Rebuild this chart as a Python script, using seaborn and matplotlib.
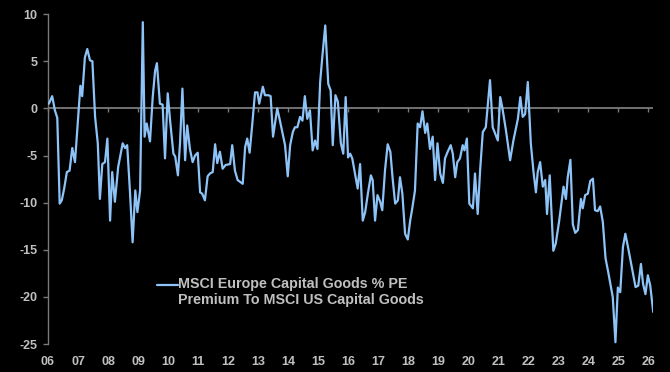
import matplotlib
matplotlib.use("Agg")
import matplotlib.pyplot as plt
from matplotlib.legend_handler import HandlerLine2D
import seaborn as sns
import pandas as pd

# dates as decimal years
dates = [
    2006.03, 2006.14, 2006.23, 2006.31, 2006.39, 2006.46, 2006.54, 2006.63, 2006.72, 2006.81,
    2006.90, 2006.99, 2007.08, 2007.14, 2007.23, 2007.31, 2007.40, 2007.48, 2007.57, 2007.66,
    2007.73, 2007.81, 2007.90, 2007.98, 2008.07, 2008.14, 2008.23, 2008.34, 2008.49, 2008.57,
    2008.64, 2008.73, 2008.82, 2008.91, 2008.98, 2009.07, 2009.16, 2009.22, 2009.29, 2009.40,
    2009.49, 2009.57, 2009.63, 2009.73, 2009.82, 2009.90, 2009.99, 2010.07, 2010.18, 2010.24,
    2010.33, 2010.40, 2010.48, 2010.57, 2010.64, 2010.73, 2010.82, 2010.90, 2010.99, 2011.07,
    2011.14, 2011.23, 2011.32, 2011.40, 2011.49, 2011.57, 2011.64, 2011.73, 2011.82, 2011.92,
    2012.07, 2012.14, 2012.23, 2012.32, 2012.49, 2012.57, 2012.64, 2012.72, 2012.81, 2012.90,
    2012.98, 2013.04, 2013.16, 2013.23, 2013.34, 2013.42, 2013.50, 2013.64, 2013.73, 2013.90,
    2013.99, 2014.07, 2014.16, 2014.23, 2014.31, 2014.40, 2014.48, 2014.56, 2014.64, 2014.73,
    2014.82, 2014.90, 2014.98, 2015.07, 2015.14, 2015.24, 2015.34, 2015.42, 2015.49, 2015.58,
    2015.66, 2015.76, 2015.84, 2015.92, 2016.00, 2016.07, 2016.14, 2016.23, 2016.32, 2016.40,
    2016.49, 2016.57, 2016.66, 2016.76, 2016.82, 2016.90, 2016.98, 2017.07, 2017.14, 2017.23,
    2017.32, 2017.41, 2017.49, 2017.57, 2017.66, 2017.73, 2017.81, 2017.90, 2017.99, 2018.07,
    2018.14, 2018.23, 2018.32, 2018.40, 2018.48, 2018.57, 2018.64, 2018.73, 2018.82, 2018.90,
    2018.98, 2019.07, 2019.16, 2019.23, 2019.32, 2019.42, 2019.49, 2019.57, 2019.64, 2019.73,
    2019.82, 2019.88, 2019.96, 2020.04, 2020.16, 2020.23, 2020.32, 2020.40, 2020.49, 2020.59,
    2020.73, 2020.82, 2020.93, 2020.99, 2021.07, 2021.14, 2021.26, 2021.40, 2021.51, 2021.66,
    2021.74, 2021.82, 2021.90, 2021.99, 2022.09, 2022.18, 2022.26, 2022.32, 2022.40, 2022.49,
    2022.57, 2022.63, 2022.72, 2022.84, 2022.92, 2023.03, 2023.18, 2023.26, 2023.32, 2023.41,
    2023.49, 2023.57, 2023.66, 2023.76, 2023.82, 2023.90, 2023.99, 2024.07, 2024.16, 2024.23,
    2024.32, 2024.40, 2024.49, 2024.58, 2024.66, 2024.76, 2024.82, 2024.91, 2024.99, 2025.07,
    2025.16, 2025.24, 2025.34, 2025.49, 2025.58, 2025.67, 2025.76, 2025.83, 2025.91, 2025.99,
    2026.07, 2026.17,
]
premium = [
    0.5, 1.3, -0.2, -1.0, -10.1, -9.75, -8.5, -6.75, -6.6, -4.2,
    -5.7, -1.6, 2.4, 1.3, 5.4, 6.3, 5.1, 5.0, -0.9, -3.7,
    -9.6, -5.9, -5.7, -3.2, -11.9, -6.75, -9.9, -6.2, -3.7, -4.2,
    -3.9, -8.7, -14.2, -8.7, -11.0, -8.7, 9.15, -3.0, -1.6, -3.5,
    1.2, 4.0, 4.8, 0.5, 0.4, -5.3, 1.6, -1.3, -4.8, -5.1,
    -7.1, -3.7, 2.1, -5.5, -1.8, -4.3, -5.7, -5.0, -4.7, -8.9,
    -9.05, -9.75, -7.2, -6.9, -6.75, -3.8, -5.8, -4.6, -6.4, -6.0,
    -5.9, -3.9, -6.6, -7.6, -8.0, -4.1, -3.2, -4.7, -1.6, 1.7,
    1.7, 0.5, 2.3, 1.4, 1.4, 1.3, -3.0, 0.0, -1.3, -3.9,
    -7.2, -3.9, -2.5, -2.0, -2.0, -0.9, -1.3, 1.3, -1.1, -0.2,
    -4.45, -3.4, -4.3, 2.8, 5.4, 8.8, 2.6, 1.9, -3.9, 1.4,
    0.7, -3.7, -4.8, 1.2, -5.2, -4.8, -5.3, -6.9, -8.5, -5.9,
    -11.9, -11.0, -9.05, -7.1, -7.6, -11.9, -9.2, -9.9, -10.8, -6.6,
    -3.8, -4.6, -7.6, -10.1, -9.75, -7.3, -9.05, -13.3, -13.9, -11.9,
    -10.6, -8.7, -1.6, -2.0, -0.3, -2.6, -1.6, -4.3, -3.0, -7.6,
    -3.7, -6.9, -7.9, -5.3, -4.6, -3.9, -4.8, -7.3, -5.7, -5.3,
    -3.9, -4.45, -3.2, -10.1, -10.6, -6.9, -11.2, -6.6, -2.5, -2.0,
    3.0, -2.0, -2.9, -3.4, 1.2, 0.1, -2.3, -5.5, -3.4, -1.1,
    1.2, -0.9, -0.6, 2.8, -3.7, -6.75, -8.9, -6.75, -5.7, -8.3,
    -7.6, -11.2, -7.1, -15.1, -14.35, -12.05, -8.3, -9.6, -7.3, -5.45,
    -12.3, -13.2, -12.9, -9.6, -10.6, -9.2, -9.05, -7.7, -7.45, -10.8,
    -10.9, -10.4, -12.05, -15.9, -17.2, -18.95, -20.0, -24.8, -19.0, -19.5,
    -14.7, -13.3, -14.9, -17.4, -18.95, -18.8, -16.5, -18.6, -19.7, -17.7,
    -18.8, -21.6,
]
years = list(range(2006, 2027))
year_labels = [f"{y % 100:02d}" for y in years]
y_ticks = [10, 5, 0, -5, -10, -15, -20, -25]
series_name = "MSCI Europe Capital Goods % PE\nPremium To MSCI US Capital Goods"

df = pd.DataFrame({"date": dates, "premium": premium})

sns.set_style("dark")
plt.rcParams["font.family"] = ["Liberation Sans", "DejaVu Sans"]

grey = "#7a7a7a"
txt = "#c0c0c0"
blue = "#8DC3F7"

fig = plt.figure(figsize=(6.7, 3.72), dpi=100, facecolor="black")
ax = fig.add_axes([0.0716, 0.075, 0.9034, 0.887])
ax.set_facecolor("black")

ax.axhline(0, color=grey, linewidth=1.3, zorder=1)
sns.lineplot(data=df, x="date", y="premium", ax=ax, color=blue,
             linewidth=1.6, sort=False, estimator=None, label=series_name, zorder=3)

ax.set_xlim(2006, 2026.17)
ax.set_ylim(-25, 10)
ax.grid(False)
ax.set_xlabel("")
ax.set_ylabel("")

for s in ["top", "right", "bottom"]:
    ax.spines[s].set_visible(False)
ax.spines["left"].set_visible(True)
ax.spines["left"].set_color(grey)
ax.spines["left"].set_linewidth(1.0)

ax.set_yticks(y_ticks)
ax.set_yticklabels([str(v) for v in y_ticks])
ax.tick_params(axis="y", left=True, length=3.5, width=1, color=grey,
               labelcolor=txt, labelsize=9, pad=4)
ax.set_xticks(years)
ax.set_xticklabels(year_labels)
ax.tick_params(axis="x", bottom=False, length=0, labelcolor=txt,
               labelsize=9, pad=8.5)
for lab in ax.get_xticklabels() + ax.get_yticklabels():
    lab.set_fontweight("bold")

# small year ticks sitting on the zero line
zero = ax.secondary_xaxis(25 / 35)
zero.set_xticks(years)
zero.set_xticklabels([])
zero.tick_params(axis="x", direction="in", length=3, width=1, color=grey)
for sp in zero.spines.values():
    sp.set_visible(False)


class FirstLineHandler(HandlerLine2D):
    # put the legend line level with the first row of the two-line label
    def create_artists(self, legend, orig_handle, xdescent, ydescent,
                       width, height, fontsize, trans):
        return super().create_artists(legend, orig_handle, xdescent, ydescent - 11.5,
                                      width, height, fontsize, trans)


handles, labels = ax.get_legend_handles_labels()
leg = ax.legend(handles, labels, loc="upper left", bbox_to_anchor=(0.18, 0.203),
                frameon=False, handlelength=1.45, handletextpad=0.0, borderpad=0,
                borderaxespad=0, prop={"size": 10.3, "weight": "bold"},
                labelcolor=txt, handler_map={handles[0]: FirstLineHandler()})

fig.savefig("out.png", dpi=100, facecolor="black")
